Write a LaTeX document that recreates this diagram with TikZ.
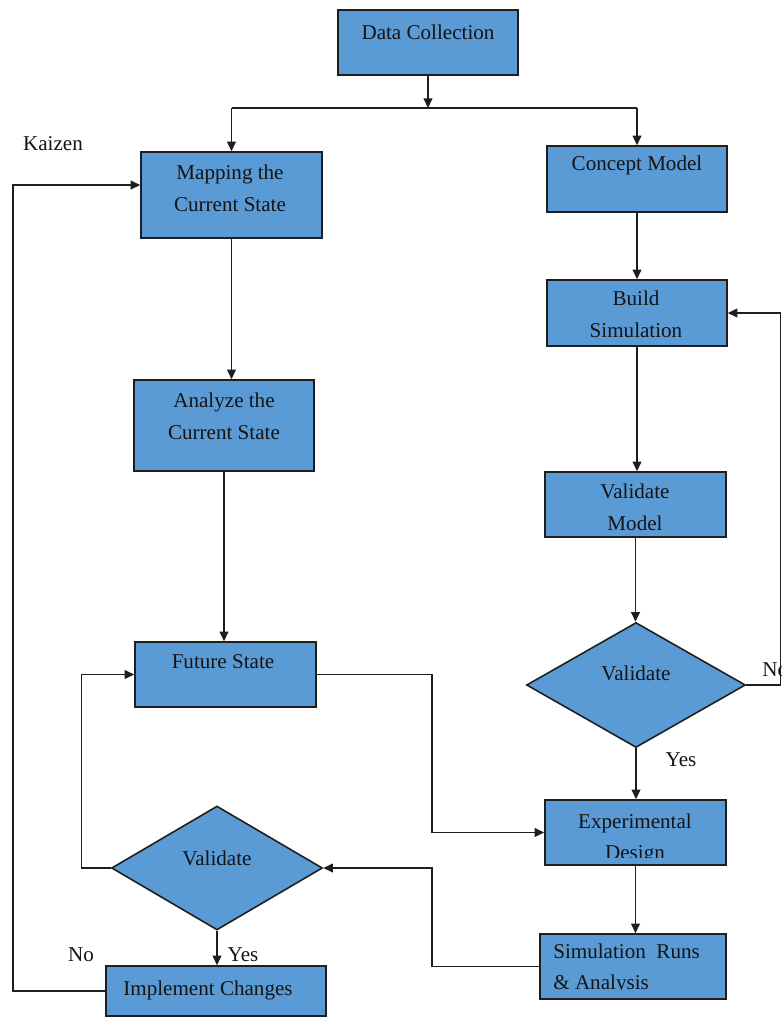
\documentclass[tikz,border=0pt]{standalone}
\usepackage{fontspec}
\setmainfont{Liberation Serif}
\usetikzlibrary{shapes.geometric,arrows.meta,calc}
\definecolor{boxblue}{HTML}{5B9BD5}
\definecolor{edge}{HTML}{1E1E1E}

\begin{document}
\begin{tikzpicture}[x=0.02cm,y=-0.02cm,
  every node/.style={font=\fontsize{12}{18}\selectfont, text=black!92},
  box/.style={draw=edge, fill=boxblue, line width=0.9pt, inner sep=0, rectangle},
  decision/.style={draw=edge, fill=boxblue, line width=0.9pt, inner sep=0, diamond},
  txt/.style={align=center, inner sep=0},
  flow/.style={draw=edge, line width=0.8pt, -{Triangle[length=5.5pt,width=5pt]}},
  link/.style={draw=edge, line width=0.8pt}]
\clip (0,0) rectangle (782,1019);
\fill[white] (0,0) rectangle (782,1019);

% ---- boxes ----
\node[box, minimum width=3.60cm, minimum height=1.30cm] (dc)      at (428,42.5)   {};
\node[box, minimum width=3.62cm, minimum height=1.72cm] (map)     at (231.5,195)  {};
\node[box, minimum width=3.60cm, minimum height=1.32cm] (concept) at (637,179)    {};
\node[box, minimum width=3.60cm, minimum height=1.82cm] (ana)     at (224,425.5)  {};
\node[box, minimum width=3.62cm, minimum height=1.30cm] (fut)     at (225.5,674.5){};
\node[box, minimum width=3.60cm, minimum height=1.32cm] (build)   at (637,313)    {};
\node[box, minimum width=3.62cm, minimum height=1.30cm] (valm)    at (635.5,504.5){};
\node[decision, minimum width=4.38cm, minimum height=2.50cm] (dR) at (636,685)    {};
\node[box, minimum width=3.62cm, minimum height=1.30cm] (exp)     at (635.5,832.5){};
\node[box, minimum width=3.72cm, minimum height=1.30cm] (sim)     at (633,966.5)  {};
\node[decision, minimum width=4.22cm, minimum height=2.48cm] (dL) at (217,868)    {};
\node[box, minimum width=4.40cm, minimum height=1.00cm] (impl)    at (216,991)    {};

% ---- box texts ----
\node[txt] (dct)  at (428,32)   {Data Collection};
\node[txt] (mapt) at (230,188)  {Mapping the\\Current State};
\node[txt] (cont) at (637,165)  {Concept Model};
\node[txt] (anat) at (224,416)  {Analyze the\\Current State};
\node[txt] (futt) at (223,662)  {Future State};
\node[txt] (bldt) at (636,314)  {Build\\Simulation};
\node[txt] (vmt)  at (635,507.5){Validate\\Model};
\node[txt] (dRt)  at (636,673)  {Validate};
\node[txt] (dLt)  at (217,858)  {Validate};
\node[txt] (impt) at (208,990)  {Implement Changes};
\begin{scope}
  \clip (exp.north west) rectangle ($(exp.south east)+(0,-8)$);
  \node[txt] (expt) at (635,839) {Experimental\\Design};
\end{scope}
\begin{scope}
  \clip (sim.north west) rectangle ($(sim.south east)+(0,-10)$);
  \node[txt, align=left, anchor=west] (simt) at (553,969) {Simulation~ Runs\\\& Analysis};
\end{scope}

% ---- free labels ----
\node[txt] (kaizen) at (53,144)  {Kaizen};
\node[txt] (noL)    at (81,955)  {No};
\node[txt] (yesL)   at (243,955) {Yes};
\node[txt] (yesR)   at (681,760) {Yes};
\node[txt, anchor=west] (noR) at (762,670) {No};

% ---- connectors ----
\coordinate (bus) at (428,108);
\coordinate (mid) at (432,750);
\coordinate (kz)  at (13,185);

\draw[flow] (dc.south) -- (dc.south |- bus);
\draw[link] (map.north |- bus) -- (concept.north |- bus);
\draw[flow] (map.north |- bus) -- (map.north);
\draw[flow] (concept.north |- bus) -- (concept.north);

\draw[flow] (map.south) -- (map.south |- ana.north);
\draw[flow] (ana.south) -- (ana.south |- fut.north);

\draw[flow] (concept.south) -- (concept.south |- build.north);
\draw[flow] (build.south) -- (build.south |- valm.north);
\draw[flow] (valm.south) -- (valm.south |- dR.north);
\draw[flow] (dR.east) -- ++(34,0) |- (build.east);
\draw[flow] (dR.south) -- (dR.south |- exp.north);

\draw[flow] (fut.east) -| (exp.west -| mid) -- (exp.west);
\draw[flow] (exp.south) -- (exp.south |- sim.north);
\draw[flow] (sim.west) -| (dL.east -| mid) -- (dL.east);
\draw[flow] (dL.west) -- ++(-29,0) |- (fut.west);
\draw[flow] (dL.south) -- (dL.south |- impl.north);
\draw[flow] (impl.west) -| (kz) -- (kz -| map.west);
\end{tikzpicture}
\end{document}
